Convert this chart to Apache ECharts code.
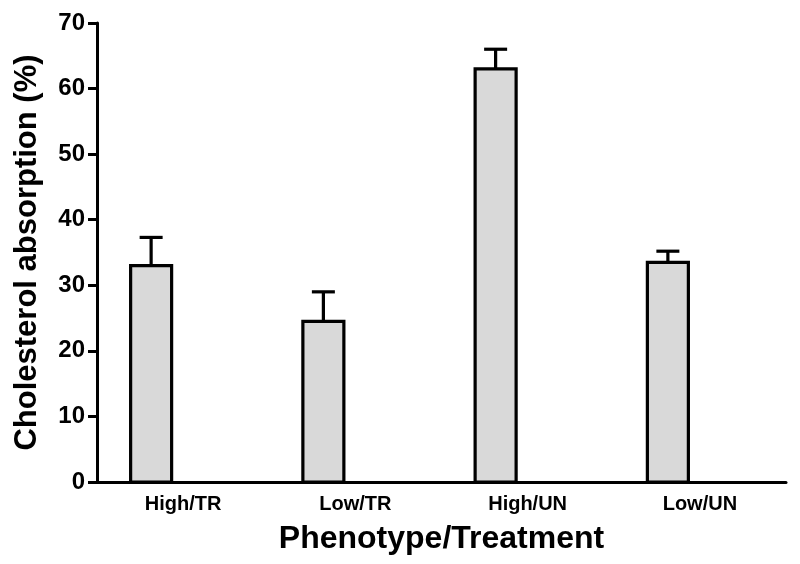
<!DOCTYPE html>
<html>
<head>
<meta charset="utf-8">
<script src="https://cdn.jsdelivr.net/npm/echarts@6/dist/echarts.min.js"></script>
<style>
  html, body {margin: 0; padding: 0; background: #fff;}
  #chart {width: 800px; height: 564px;}
</style>
</head>
<body>
<div id="chart"></div>
<script>
const categories = ['High/TR', 'Low/TR', 'High/UN', 'Low/UN'];
const absorption = [33.0, 24.5, 63.0, 33.5];
const errorUp = [4.3, 4.5, 3.0, 1.7];

const font = '"Liberation Sans", Arial, Helvetica, sans-serif';

const chart = echarts.init(document.getElementById('chart'), null, {renderer: 'canvas'});

// bars sit left of the band centre, like the original plot
function renderBar(params, api) {
  const idx = api.value(0);
  const base = api.coord([idx, 0]);
  const top = api.coord([idx, api.value(1)]);
  const errTop = api.coord([idx, api.value(1) + api.value(2)]);
  const cx = base[0] - 32;
  const w = 41;
  return {
    type: 'group',
    children: [
      {
        type: 'line',
        shape: {x1: cx, y1: top[1], x2: cx, y2: errTop[1]},
        style: {stroke: '#000', lineWidth: 3.2},
      },
      {
        type: 'line',
        shape: {x1: cx - 11.5, y1: errTop[1], x2: cx + 11.5, y2: errTop[1]},
        style: {stroke: '#000', lineWidth: 3.2},
      },
      {
        type: 'rect',
        shape: {x: cx - w / 2, y: top[1], width: w, height: base[1] - top[1]},
        style: {fill: '#d9d9d9', stroke: '#000', lineWidth: 3.2},
      },
    ],
  };
}

chart.setOption({
  animation: false,
  grid: {left: 97, right: 14, top: 23, bottom: 82},
  xAxis: {
    type: 'category',
    data: categories,
    name: 'Phenotype/Treatment',
    nameLocation: 'middle',
    nameGap: 41,
    nameTextStyle: {color: '#000', fontFamily: font, fontWeight: 'bold', fontSize: 32},
    axisLine: {lineStyle: {color: '#000', width: 3}},
    axisTick: {show: false},
    axisLabel: {color: '#000', fontFamily: font, fontWeight: 'bold', fontSize: 20, margin: 12},
    splitLine: {show: false},
  },
  yAxis: {
    type: 'value',
    min: 0,
    max: 70,
    interval: 10,
    name: 'Cholesterol absorption (%)',
    nameLocation: 'middle',
    nameGap: 54,
    nameTextStyle: {color: '#000', fontFamily: font, fontWeight: 'bold', fontSize: 31},
    axisLine: {show: true, lineStyle: {color: '#000', width: 3}},
    axisTick: {show: true, length: 9, lineStyle: {color: '#000', width: 3}},
    axisLabel: {color: '#000', fontFamily: font, fontWeight: 'bold', fontSize: 24, margin: 12},
    splitLine: {show: false},
  },
  series: [{
    type: 'custom',
    renderItem: renderBar,
    data: categories.map((c, i) => [i, absorption[i], errorUp[i]]),
    encode: {x: 0, y: 1},
    z: 3,
  }],
});
</script>
</body>
</html>
